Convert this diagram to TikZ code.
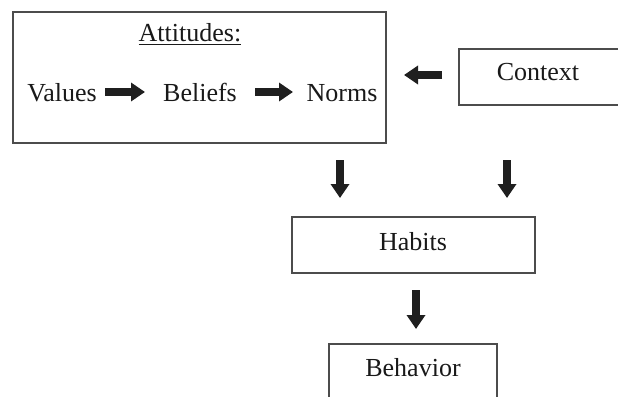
\documentclass[tikz,border=0pt]{standalone}
\usepackage{fontspec}
\setmainfont{Liberation Serif}
\usetikzlibrary{arrows.meta}
\begin{document}
\begin{tikzpicture}[x=1pt,y=-1pt,
  box/.style={draw=black!70,line width=1.4pt,fill=white,inner sep=0pt},
  lbl/.style={inner sep=0pt,font=\fontsize{26}{30}\selectfont,text=black!90},
  bigarrow/.style={draw=black!88,line width=8pt,-{Triangle[length=14pt,width=18pt]}}]
\useasboundingbox (0,0) rectangle (618,396);
% boxes
\node[box,minimum width=373pt,minimum height=131pt] (attitudes) at (199.5,77.5) {};
\node[box,minimum width=165pt,minimum height=56pt] (context) at (541.5,77) {};
\node[box,minimum width=243pt,minimum height=56pt] (habits) at (413.5,245) {};
\node[box,minimum width=168pt,minimum height=60pt] (behavior) at (413,374) {};
% texts
\node[lbl,anchor=base] (atttitle) at (190,42) {\underline{Attitudes:}};
\node[lbl,anchor=base] (values) at (62,101) {Values};
\node[lbl,anchor=base] (beliefs) at (200,101) {Beliefs};
\node[lbl,anchor=base] (norms) at (342,101) {Norms};
\node[lbl,anchor=base] (contexttext) at (538,81) {Context};
\node[lbl,anchor=base] (habitstext) at (413,250) {Habits};
\node[lbl,anchor=base] (behaviortext) at (413,376) {Behavior};
% arrow endpoints
\coordinate (a1s) at (105,92); \coordinate (a1e) at (145,92);
\coordinate (a2s) at (255,92); \coordinate (a2e) at (293,92);
\coordinate (a3s) at (442,75); \coordinate (a3e) at (404,75);
\coordinate (a4s) at (340,160); \coordinate (a4e) at (340,198);
\coordinate (a5s) at (507,160); \coordinate (a5e) at (507,198);
\coordinate (a6s) at (416,290); \coordinate (a6e) at (416,329);
\draw[bigarrow] (a1s) -- (a1e);
\draw[bigarrow] (a2s) -- (a2e);
\draw[bigarrow] (a3s) -- (a3e);
\draw[bigarrow] (a4s) -- (a4e);
\draw[bigarrow] (a5s) -- (a5e);
\draw[bigarrow] (a6s) -- (a6e);
\end{tikzpicture}
\end{document}
